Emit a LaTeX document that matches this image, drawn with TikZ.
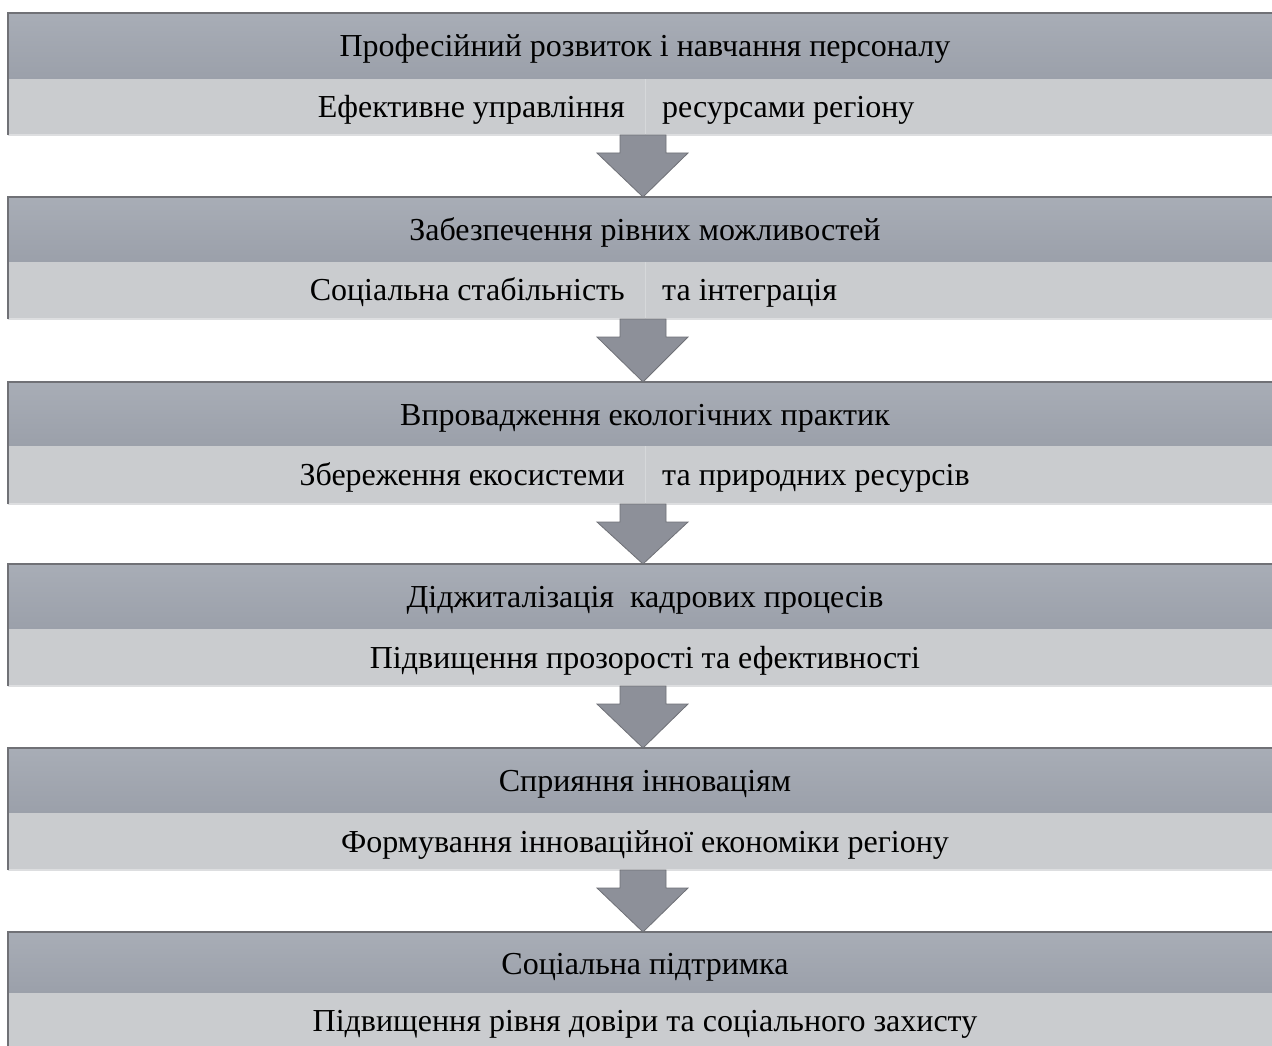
\documentclass[tikz,border=0pt]{standalone}
\usepackage{fontspec}
\setmainfont{Liberation Serif}
\usetikzlibrary{calc}
\definecolor{bandtop}{HTML}{A8ADB6}
\definecolor{bandbot}{HTML}{9BA0AA}
\definecolor{lowband}{HTML}{CACCCF}
\definecolor{edgedark}{HTML}{707176}
\definecolor{edgelight}{HTML}{DDDEE0}
\definecolor{arrowfill}{HTML}{8D9099}
\definecolor{arrowedge}{HTML}{6F7177}
\definecolor{celline}{HTML}{D6D8DA}
\tikzset{
  blk/.style={rectangle, minimum width=1274pt, minimum height=122pt, inner sep=0pt, outer sep=0pt},
  txt/.style={font=\fontsize{32}{38}\selectfont, inner sep=0pt, text height=22pt, text depth=0pt},
  bigarrow/.style={fill=arrowfill, draw=arrowedge, line width=0.8pt, line join=miter},
}
\newcommand\drawblock[2]{%
  \shade[top color=bandtop, bottom color=bandbot] (#1.north west) rectangle ($(#1.north east)+(0,-#2)$);
  \fill[lowband] ($(#1.north west)+(0,-#2)$) rectangle (#1.south east);
  \draw[edgelight, line width=1.5pt] (#1.south west) -- (#1.south east);
  \draw[edgedark, line width=1.6pt] (#1.south west) -- (#1.north west) -- (#1.north east);
}
\newcommand\drawarrow[2]{%
  \draw[bigarrow] ($(#1.south)+(-25,0)$) -- ($(#1.south)+(21,0)$) -- ($(#1.south)+(21,-18)$)
    -- ($(#1.south)+(43,-18)$) -- ($(#2.north)+(-2,0)$) -- ($(#1.south)+(-48,-18)$)
    -- ($(#1.south)+(-25,-18)$) -- cycle;
}
\begin{document}
\begin{tikzpicture}[x=1pt,y=1pt]
\useasboundingbox (0,0) rectangle (1272,-1046);
\clip (0,0) rectangle (1272,-1046);
\fill[white] (0,0) rectangle (1272,-1046);

\node[blk] (b1) at (645,-74) {};
\node[blk] (b2) at (645,-258) {};
\node[blk] (b3) at (645,-443) {};
\node[blk] (b4) at (645,-625) {};
\node[blk] (b5) at (645,-809) {};
\node[blk] (b6) at (645,-993) {};

\drawblock{b1}{66}
\drawblock{b2}{65}
\drawblock{b3}{64}
\drawblock{b4}{65}
\drawblock{b5}{65}
\drawblock{b6}{61}

% faint cell dividers in the split lines
\draw[celline, line width=1pt] ($(b1.north)+(0,-66)$) -- (b1.south);
\draw[celline, line width=1pt] ($(b2.north)+(0,-65)$) -- (b2.south);
\draw[celline, line width=1pt] ($(b3.north)+(0,-64)$) -- (b3.south);

\drawarrow{b1}{b2}
\drawarrow{b2}{b3}
\drawarrow{b3}{b4}
\drawarrow{b4}{b5}
\drawarrow{b5}{b6}

% block 1
\node[txt] (h1) at ($(b1.north)+(0,-33)$) {Професійний розвиток і навчання персоналу};
\node[txt, anchor=east] (l1) at ($(b1.north)+(-20,-94)$) {Ефективне управління};
\node[txt, anchor=west] (r1) at ($(b1.north)+(17,-94)$) {ресурсами регіону};
% block 2
\node[txt] (h2) at ($(b2.north)+(0,-32.5)$) {Забезпечення рівних можливостей};
\node[txt, anchor=east] (l2) at ($(b2.north)+(-20,-92.5)$) {Соціальна стабільність};
\node[txt, anchor=west] (r2) at ($(b2.north)+(17,-92.5)$) {та інтеграція};
% block 3
\node[txt] (h3) at ($(b3.north)+(0,-32)$) {Впровадження екологічних практик};
\node[txt, anchor=east] (l3) at ($(b3.north)+(-20,-92)$) {Збереження екосистеми};
\node[txt, anchor=west] (r3) at ($(b3.north)+(17,-92)$) {та природних ресурсів};
% block 4
\node[txt] (h4) at ($(b4.north)+(0,-32.5)$) {Діджиталізація\ \ кадрових процесів};
\node[txt] (l4) at ($(b4.north)+(0,-93)$) {Підвищення прозорості та ефективності};
% block 5
\node[txt] (h5) at ($(b5.north)+(0,-32.5)$) {Сприяння інноваціям};
\node[txt] (l5) at ($(b5.north)+(0,-93)$) {Формування інноваційної економіки регіону};
% block 6
\node[txt] (h6) at ($(b6.north)+(0,-31)$) {Соціальна підтримка};
\node[txt] (l6) at ($(b6.north)+(0,-88)$) {Підвищення рівня довіри та соціального захисту};
\end{tikzpicture}
\end{document}
